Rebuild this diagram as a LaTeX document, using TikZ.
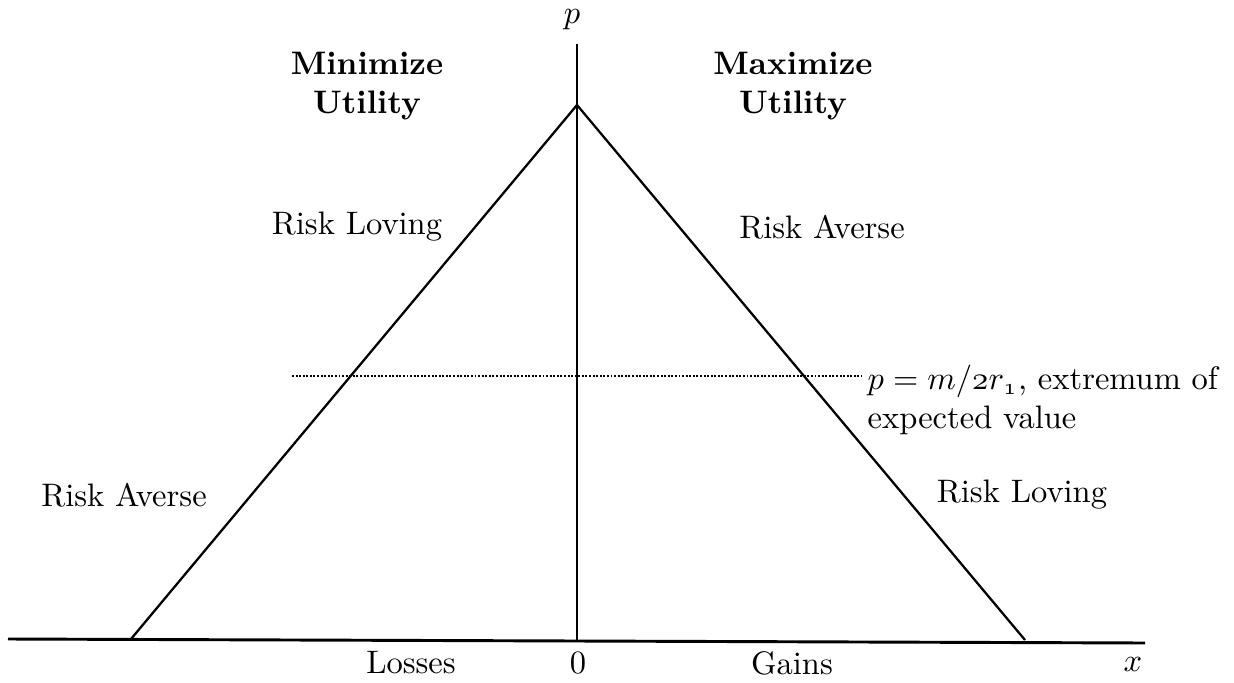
\documentclass[tikz,border=0pt]{standalone}
\usepackage{amsmath,amssymb,tikz}

\begin{document}
\begin{tikzpicture}[x=0.0108cm,y=-0.0108cm,every node/.style={inner sep=0pt},
    lbl/.style={align=center},line/.style={line width=0.7pt}]
            \useasboundingbox (0,0) rectangle (1234,683);

            \coordinate (top) at (577,105);
            \coordinate (lf) at (131,639);
            \coordinate (rf) at (1025,640);
            \coordinate (ytop) at (577,44);
            \coordinate (ybot) at (577,640);
            \coordinate (xl) at (8,639);
            \coordinate (xr) at (1145,643);
            \coordinate (dl) at (292,376);
            \coordinate (dr) at (862,376);

            \path [line] (ytop) edge (ybot);
            \path [line width=0.9pt] (xl) edge (xr);
            \path [line] (lf) edge (top);
            \path [line] (top) edge (rf);
            \path [line width=0.8pt,dash pattern=on 0.6pt off 0.5pt] (dl) edge (dr);

            \node (p) at (572,20) {$p$};
            \node (x) at (1133,664) {$x$};
            \node (zero) at (578,663) {$0$};
            \node (loss) at (411,663) {Losses};
            \node (gain) at (792,663) {Gains};

            \node[lbl] (min) at (367,86) {\textbf{Minimize}\\\textbf{Utility}};
            \node[lbl] (max) at (793,86) {\textbf{Maximize}\\\textbf{Utility}};
            \node (rl1) at (357,227) {Risk Loving};
            \node (ra1) at (822,227) {Risk Averse};
            \node (ra2) at (124,495) {Risk Averse};
            \node (rl2) at (1022,495) {Risk Loving};
            \node[align=left,anchor=west] (ext) at (867,400)
                {$p=m/\mathnormal{2}r_{\mathnormal{1}}$, extremum of\\expected value};
        \end{tikzpicture}
\end{document}
